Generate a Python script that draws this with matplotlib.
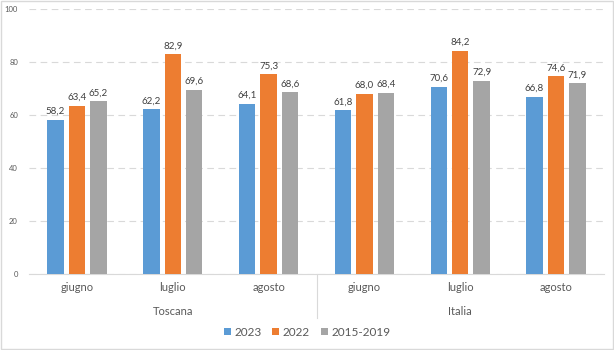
import matplotlib
matplotlib.use("Agg")
import matplotlib.pyplot as plt
from matplotlib.lines import Line2D
from matplotlib.patches import Rectangle
import numpy as np

plt.rcParams['font.family'] = ['Lato', 'DejaVu Sans']

regions = ["Toscana", "Italia"]
months = ["giugno", "luglio", "agosto"]
series_names = ["2023", "2022", "2015-2019"]
v2023 = [58.2, 62.2, 64.1, 61.8, 70.6, 66.8]
v2022 = [63.4, 82.9, 75.3, 68.0, 84.2, 74.6]
v1519 = [65.2, 69.6, 68.6, 68.4, 72.9, 71.9]
yticks = [0, 20, 40, 60, 80, 100]

colors = ["#5B9BD5", "#ED7D31", "#A5A5A5"]
txt = "#595959"

fig = plt.figure(figsize=(6.14, 3.5), dpi=100)
ax = fig.add_axes([29 / 614, 1 - 274 / 350, 575 / 614, 265 / 350])

x = np.arange(len(months) * len(regions))
w = 0.172
offs = [-0.224, 0.0, 0.224]
for vals, c, o, name in zip([v2023, v2022, v1519], colors, offs, series_names):
    ax.bar(x + o, vals, width=w, color=c, label=name, zorder=3)
    for xi, v in zip(x + o, vals):
        ax.text(xi, v + 1.5, f"{v:.1f}".replace(".", ","), ha="center", va="bottom",
                fontsize=7, color="#404040")

ax.set_xlim(-0.5, len(x) - 0.5)
ax.set_ylim(0, 100)
ax.set_yticks(yticks)
ax.set_yticklabels([str(t) for t in yticks], fontsize=5.5, color=txt)
ax.yaxis.grid(True, color="#D9D9D9", linestyle=(0, (6, 4)), linewidth=0.8, zorder=0)
ax.tick_params(axis="y", length=0, pad=8)
ax.tick_params(axis="x", length=0, pad=6)
ax.set_xticks(x)
ax.set_xticklabels(months * len(regions), fontsize=8, color=txt)
for s in ["top", "right", "left"]:
    ax.spines[s].set_visible(False)
ax.spines["bottom"].set_color("#D9D9D9")

# group labels
for i, r in enumerate(regions):
    ax.text(i * 3 + 1, -0.143, r, transform=ax.get_xaxis_transform(), ha="center",
            va="center", fontsize=8, color=txt)
# separator
ax.add_line(Line2D([2.5, 2.5], [0, -0.166], transform=ax.get_xaxis_transform(),
                   color="#D9D9D9", linewidth=0.8, clip_on=False))

fig.legend(loc="center", bbox_to_anchor=(0.5, 0.051), ncol=3, frameon=False,
           fontsize=8.5, handlelength=0.6, handleheight=0.6, handletextpad=0.3,
           columnspacing=0.9, labelcolor=txt)

fig.patches.append(Rectangle((0.002, 0.003), 0.996, 0.994, transform=fig.transFigure,
                             fill=False, edgecolor="#D9D9D9", linewidth=1))

fig.savefig("out.png", dpi=100)
